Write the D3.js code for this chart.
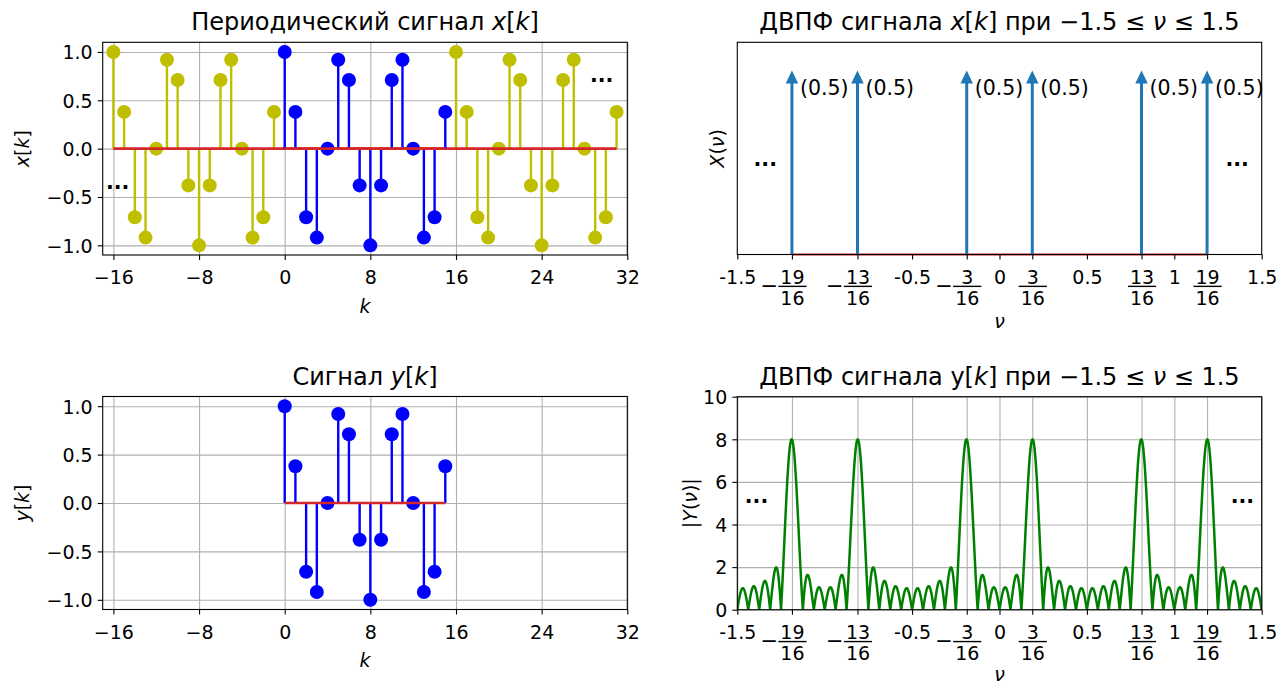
<!DOCTYPE html>
<html>
<head>
<meta charset="utf-8">
<script src="https://cdn.jsdelivr.net/npm/d3@7"></script>
<style>
  body { margin: 0; background: #fff; }
  text { font-family: "DejaVu Sans", sans-serif; fill: #000; }
</style>
</head>
<body>
<svg id="fig" width="1282" height="685"></svg>
<script>
// ---- data ----
// one period (N = 16) of the sequence x[k]
const kPeriod = [0, 1, 2, 3, 4, 5, 6, 7, 8, 9, 10, 11, 12, 13, 14, 15];
const xPeriod = [1.0, 0.38, -0.71, -0.92, 0.0, 0.92, 0.71, -0.38, -1.0, -0.38, 0.71, 0.92, 0.0, -0.92, -0.71, 0.38];
const periodN = 16;
const kShown = [-16, 31];             // periodic extension drawn on this range
// finite signal y[k], k = 0..15
const yK = [0, 1, 2, 3, 4, 5, 6, 7, 8, 9, 10, 11, 12, 13, 14, 15];
const yVals = [1.0, 0.38, -0.71, -0.92, 0.0, 0.92, 0.71, -0.38, -1.0, -0.38, 0.71, 0.92, 0.0, -0.92, -0.71, 0.38];
// spectral lines of x[k] on -1.5 <= nu <= 1.5
const lineFreqs = [-19/16, -13/16, -3/16, 3/16, 13/16, 19/16];
const lineWeights = [0.5, 0.5, 0.5, 0.5, 0.5, 0.5];
// ticks
const kTicks = [-16, -8, 0, 8, 16, 24, 32];
const kTickLabels = ["\u221216", "\u22128", "0", "8", "16", "24", "32"];
const ampTicks = [-1.0, -0.5, 0.0, 0.5, 1.0];
const ampTickLabels = ["\u22121.0", "\u22120.5", "0.0", "0.5", "1.0"];
const nuTicks = [-1.5, -19/16, -13/16, -0.5, -3/16, 0, 3/16, 0.5, 13/16, 1, 19/16, 1.5];
const nuTickLabels = ["-1.5", "\u221219/16", "\u221213/16", "-0.5", "\u22123/16", "0", "3/16", "0.5", "13/16", "1", "19/16", "1.5"];
const magTicks = [0, 2, 4, 6, 8, 10];
const magTickLabels = ["0", "2", "4", "6", "8", "10"];

// ---- styling ----
const FS = 19, TFS = 24, AFS = 20.5;
const C_PER = "#bfbf00", C_SIG = "#0000ff", C_BASE = "#d62728", C_ARROW = "#1f77b4", C_MAG = "#008000", C_GRID = "#b0b0b0";

const svg = d3.select("#fig");
svg.append("rect").attr("width", 1282).attr("height", 685).attr("fill", "#fff");

const boxes = {
  tl: { x0: 102.7, x1: 627.3, y0: 42.3, y1: 255 },
  tr: { x0: 737.3, x1: 1261.7, y0: 42.3, y1: 254.5 },
  bl: { x0: 102.7, x1: 627.3, y0: 396.5, y1: 609.5 },
  br: { x0: 737.3, x1: 1261.7, y0: 396.7, y1: 609.7 }
};

// rich text: parts = [[string, italic], ...]
function rich(sel, parts) {
  parts.forEach(([s, it]) => {
    sel.append("tspan").text(s).attr("font-style", it ? "italic" : "normal");
  });
  return sel;
}

function panel(b, xDom, yDom) {
  const x = d3.scaleLinear().domain(xDom).range([b.x0, b.x1]);
  const y = d3.scaleLinear().domain(yDom).range([b.y1, b.y0]);
  const g = svg.append("g");
  const id = "clip" + Math.round(b.x0) + "_" + Math.round(b.y0);
  svg.append("clipPath").attr("id", id).append("rect")
    .attr("x", b.x0).attr("y", b.y0).attr("width", b.x1 - b.x0).attr("height", b.y1 - b.y0);
  return { x, y, g, b, clip: `url(#${id})` };
}

function grid(p, xTicks, yTicks) {
  const { g, x, y, b } = p;
  if (xTicks) g.append("g").attr("transform", `translate(0,${b.y1})`)
    .call(d3.axisBottom(x).tickValues(xTicks).tickSize(-(b.y1 - b.y0)).tickFormat(""))
    .call(s => { s.select(".domain").remove(); s.selectAll("line").attr("stroke", C_GRID).attr("stroke-width", 1.1); });
  if (yTicks) g.append("g").attr("transform", `translate(${b.x0},0)`)
    .call(d3.axisLeft(y).tickValues(yTicks).tickSize(-(b.x1 - b.x0)).tickFormat(""))
    .call(s => { s.select(".domain").remove(); s.selectAll("line").attr("stroke", C_GRID).attr("stroke-width", 1.1); });
}

function xAxis(p, ticks, labels) {
  const { x, b } = p;
  const ax = svg.append("g").attr("transform", `translate(0,${b.y1})`)
    .call(d3.axisBottom(x).tickValues(ticks).tickSize(5).tickSizeOuter(0).tickFormat(""));
  ax.select(".domain").remove();
  ax.selectAll(".tick line").attr("stroke", "#000").attr("stroke-width", 1.1);
  const capH = 0.73 * FS, top = 15.5;
  const base = top + capH;
  ax.selectAll(".tick").each(function (d, i) {
    const t = d3.select(this);
    const lab = labels[i];
    const m = lab.match(/^(\u2212?)(\d+)\/(\d+)$/);
    if (!m) {
      t.append("text").attr("y", base).attr("text-anchor", "middle")
        .attr("font-size", FS).text(lab);
    } else {
      // fraction centred on the tick, a leading minus hangs to the left of the bar
      const numW = Math.max(m[2].length, m[3].length) * 0.636 * FS;
      const barW = numW + 4;
      const barL = -barW / 2;
      const barY = base + 2.5;
      t.append("text").attr("x", 0).attr("y", base).attr("text-anchor", "middle")
        .attr("font-size", FS).text(m[2]);
      t.append("line").attr("x1", barL).attr("x2", barL + barW)
        .attr("y1", barY).attr("y2", barY).attr("stroke", "#000").attr("stroke-width", 1.4);
      t.append("text").attr("x", 0).attr("y", barY + 4.5 + capH).attr("text-anchor", "middle")
        .attr("font-size", FS).text(m[3]);
      if (m[1]) {
        const ms = 21;   // minus glyph size
        t.append("text").attr("x", barL - 2.5 + 0.106 * ms).attr("y", barY + 0.31 * ms)
          .attr("text-anchor", "end").attr("font-size", ms).text("\u2212");
      }
    }
  });
}

function yAxis(p, ticks, labels) {
  const { y, b } = p;
  const ax = svg.append("g").attr("transform", `translate(${b.x0},0)`)
    .call(d3.axisLeft(y).tickValues(ticks).tickSize(5).tickSizeOuter(0).tickPadding(5)
      .tickFormat((d, i) => labels[i]));
  ax.select(".domain").remove();
  ax.selectAll(".tick line").attr("stroke", "#000").attr("stroke-width", 1.1);
  ax.selectAll(".tick text").attr("font-size", FS).attr("font-family", "DejaVu Sans")
    .attr("dy", null).attr("y", 0.36 * FS).attr("fill", "#000");
}

function frame(p) {
  const b = p.b;
  svg.append("rect").attr("x", b.x0).attr("y", b.y0).attr("width", b.x1 - b.x0).attr("height", b.y1 - b.y0)
    .attr("fill", "none").attr("stroke", "#000").attr("stroke-width", 1.1);
}

function title(p, parts, baseY) {
  rich(svg.append("text").attr("x", (p.b.x0 + p.b.x1) / 2).attr("y", baseY)
    .attr("text-anchor", "middle").attr("font-size", TFS), parts);
}
function xLabel(p, parts, baseY) {
  rich(svg.append("text").attr("x", (p.b.x0 + p.b.x1) / 2).attr("y", baseY)
    .attr("text-anchor", "middle").attr("font-size", FS), parts);
}
function yLabel(p, parts, xPos) {
  const cy = (p.b.y0 + p.b.y1) / 2;
  rich(svg.append("text").attr("transform", `translate(${xPos},${cy}) rotate(-90)`)
    .attr("text-anchor", "middle").attr("font-size", FS), parts);
}
function dots(p, xv, yv) {
  p.g.append("text").attr("x", p.x(xv)).attr("y", p.y(yv)).attr("text-anchor", "middle")
    .attr("font-size", AFS).attr("font-weight", "bold").text("...");
}

function stems(p, ks, vs, color) {
  const pts = ks.map((k, i) => ({ k, v: vs[i] }));
  const gg = p.g.append("g").attr("clip-path", p.clip);
  gg.selectAll("line.stem").data(pts).join("line").attr("class", "stem")
    .attr("x1", d => p.x(d.k)).attr("x2", d => p.x(d.k))
    .attr("y1", p.y(0)).attr("y2", d => p.y(d.v))
    .attr("stroke", color).attr("stroke-width", 2.4);
  gg.selectAll("circle").data(pts).join("circle")
    .attr("cx", d => p.x(d.k)).attr("cy", d => p.y(d.v)).attr("r", 7).attr("fill", color);
}
function baseline(p, k0, k1, w) {
  p.g.append("line").attr("x1", p.x(k0)).attr("x2", p.x(k1)).attr("y1", p.y(0)).attr("y2", p.y(0))
    .attr("stroke", C_BASE).attr("stroke-width", w);
}

// ---- top left: periodic x[k] ----
const pTL = panel(boxes.tl, [-17, 32], [-1.1, 1.1]);
grid(pTL, kTicks, ampTicks);
{
  const ks = d3.range(kShown[0], kShown[1] + 1);
  const outer = ks.filter(k => k < 0 || k >= periodN);
  stems(pTL, outer, outer.map(k => xPeriod[((k % periodN) + periodN) % periodN]), C_PER);
  baseline(pTL, kShown[0], kShown[1], 2.6);
  stems(pTL, kPeriod, xPeriod, C_SIG);
  baseline(pTL, kPeriod[0], kPeriod[kPeriod.length - 1], 2.6);
}
dots(pTL, -15.6, -0.42);
dots(pTL, 29.6, 0.69);
frame(pTL);
xAxis(pTL, kTicks, kTickLabels);
yAxis(pTL, ampTicks, ampTickLabels);
title(pTL, [["Периодический сигнал ", 0], ["x", 1], ["[", 0], ["k", 1], ["]", 0]], 30);
xLabel(pTL, [["k", 1]], 313);
yLabel(pTL, [["x", 1], ["[", 0], ["k", 1], ["]", 0]], 29);

// ---- top right: line spectrum of x[k] ----
const pTR = panel(boxes.tr, [-1.5, 1.5], [0, 0.577]);
baseline(pTR, lineFreqs[0], lineFreqs[lineFreqs.length - 1], 2.2);
{
  const headL = 13, headW = 12.5;
  const arr = lineFreqs.map((f, i) => ({ f, w: lineWeights[i] }));
  const gg = pTR.g.append("g");
  gg.selectAll("line.shaft").data(arr).join("line").attr("class", "shaft")
    .attr("x1", d => pTR.x(d.f)).attr("x2", d => pTR.x(d.f))
    .attr("y1", pTR.y(0)).attr("y2", d => pTR.y(d.w) + headL - 1)
    .attr("stroke", C_ARROW).attr("stroke-width", 3);
  gg.selectAll("path.head").data(arr).join("path").attr("class", "head")
    .attr("d", d => {
      const cx = pTR.x(d.f), ty = pTR.y(d.w);
      return `M${cx},${ty}L${cx + headW / 2},${ty + headL}L${cx - headW / 2},${ty + headL}Z`;
    }).attr("fill", C_ARROW);
  gg.selectAll("text.w").data(arr).join("text").attr("class", "w")
    .attr("x", d => pTR.x(d.f) + 8).attr("y", d => pTR.y(d.w) + 24)
    .attr("font-size", AFS).text(d => `(${d.w})`);
}
dots(pTR, -1.34, 0.24);
dots(pTR, 1.36, 0.24);
frame(pTR);
xAxis(pTR, nuTicks, nuTickLabels);
title(pTR, [["ДВПФ сигнала ", 0], ["x", 1], ["[", 0], ["k", 1], ["]", 0], [" при ", 0], ["\u22121.5 \u2264 ", 0], ["\u03bd", 1], [" \u2264 1.5", 0]], 30);
xLabel(pTR, [["\u03bd", 1]], 328);
yLabel(pTR, [["X", 1], ["(", 0], ["\u03bd", 1], [")", 0]], 724);

// ---- bottom left: y[k] ----
const pBL = panel(boxes.bl, [-17, 32], [-1.1, 1.1]);
grid(pBL, kTicks, ampTicks);
stems(pBL, yK, yVals, C_SIG);
baseline(pBL, yK[0], yK[yK.length - 1], 2.6);
frame(pBL);
xAxis(pBL, kTicks, kTickLabels);
yAxis(pBL, ampTicks, ampTickLabels);
title(pBL, [["Сигнал ", 0], ["y", 1], ["[", 0], ["k", 1], ["]", 0]], 385);
xLabel(pBL, [["k", 1]], 667);
yLabel(pBL, [["y", 1], ["[", 0], ["k", 1], ["]", 0]], 29);

// ---- bottom right: |Y(nu)|, DTFT of y[k] ----
const pBR = panel(boxes.br, [-1.5, 1.5], [0, 10]);
grid(pBR, nuTicks, magTicks);
{
  const nuGrid = d3.range(0, 3001).map(i => -1.5 + i * 0.001);
  const spec = nuGrid.map(nu => {
    let re = 0, im = 0;
    yK.forEach((k, i) => {
      re += yVals[i] * Math.cos(2 * Math.PI * nu * k);
      im -= yVals[i] * Math.sin(2 * Math.PI * nu * k);
    });
    return { nu, m: Math.hypot(re, im) };
  });
  pBR.g.append("path").datum(spec).attr("clip-path", pBR.clip)
    .attr("d", d3.line().x(d => pBR.x(d.nu)).y(d => pBR.y(d.m)))
    .attr("fill", "none").attr("stroke", C_MAG).attr("stroke-width", 2.5).attr("stroke-linejoin", "round");
}
dots(pBR, -1.39, 5.0);
dots(pBR, 1.39, 5.0);
frame(pBR);
xAxis(pBR, nuTicks, nuTickLabels);
yAxis(pBR, magTicks, magTickLabels);
title(pBR, [["ДВПФ сигнала y", 0], ["[", 0], ["k", 1], ["]", 0], [" при \u22121.5 \u2264 ", 0], ["\u03bd", 1], [" \u2264 1.5", 0]], 385);
xLabel(pBR, [["\u03bd", 1]], 681);
yLabel(pBR, [["|", 0], ["Y", 1], ["(", 0], ["\u03bd", 1], [")|", 0]], 697);
</script>
</body>
</html>
